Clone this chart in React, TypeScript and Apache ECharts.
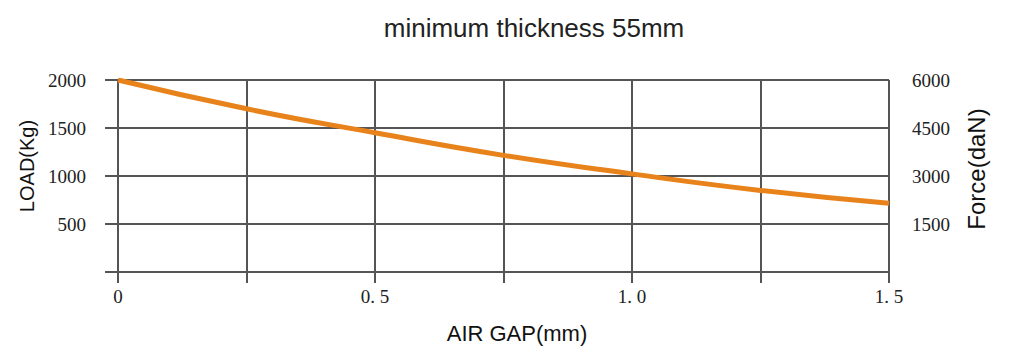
import React, { useEffect, useRef } from "react";
import * as echarts from "echarts";

const titleText = "minimum thickness 55mm";
const gapMm = [0, 0.25, 0.5, 0.75, 1.0, 1.25, 1.5];
const loadKg = [2000, 1700, 1450, 1215, 1022, 850, 715];
const xTickValues = [0, 0.5, 1.0, 1.5];
const xTickLabels = ["0", "0. 5", "1. 0", "1. 5"];
const xName = "AIR GAP(mm)";
const leftName = "LOAD(Kg)";
const rightName = "Force(daN)";

const GRID = "#555555";
const SERIF = "'Liberation Serif', 'DejaVu Serif', serif";
const SANS = "'Liberation Sans', Arial, sans-serif";

export default function App() {
  const ref = useRef<HTMLDivElement>(null);
  useEffect(() => {
    if (!ref.current) return;
    const chart = echarts.init(ref.current, null, { renderer: "svg" });
    const xFmt = (v: number) => {
      const i = xTickValues.findIndex((t) => Math.abs(t - v) < 1e-9);
      return i >= 0 ? xTickLabels[i] : "";
    };
    chart.setOption({
      animation: false,
      backgroundColor: "#ffffff",
      title: {
        text: titleText,
        left: 529,
        top: 10,
        textAlign: "center",
        textStyle: { fontFamily: SANS, fontSize: 26, fontWeight: "normal", color: "#222" },
      },
      grid: { left: 118, right: 130, top: 80, bottom: 84 },
      xAxis: [
        {
          type: "value",
          position: "bottom",
          min: 0,
          max: 1.5,
          interval: 0.25,
          name: xName,
          nameLocation: "middle",
          nameGap: 50,
          nameTextStyle: { fontFamily: SANS, fontSize: 22, color: "#111", padding: [0, 0, 0, 27] },
          axisLine: { show: false },
          axisTick: { show: true, length: 11, lineStyle: { color: GRID, width: 2 } },
          axisLabel: {
            formatter: xFmt,
            margin: 15,
            fontFamily: SERIF,
            fontSize: 19,
            color: "#222",
            hideOverlap: false,
          },
          splitLine: { show: true, lineStyle: { color: GRID, width: 2 } },
        },
        {
          type: "value",
          position: "top",
          min: 0,
          max: 1.5,
          interval: 0.25,
          axisLine: { show: false },
          axisTick: { show: true, length: 15, lineStyle: { color: GRID, width: 2 } },
          axisLabel: { show: false },
          splitLine: { show: false },
        },
      ],
      yAxis: [
        {
          type: "value",
          position: "left",
          min: 0,
          max: 2000,
          interval: 500,
          name: leftName,
          nameLocation: "middle",
          nameRotate: 90,
          nameGap: 72,
          nameTextStyle: { fontFamily: SANS, fontSize: 20, color: "#111", padding: [0, 0, 0, 20] },
          axisLine: { show: false },
          axisTick: { show: true, length: 13, lineStyle: { color: GRID, width: 2 } },
          axisLabel: {
            formatter: (v: number) => (v === 0 ? "" : String(v)),
            margin: 32,
            fontFamily: SERIF,
            fontSize: 19,
            color: "#222",
          },
          splitLine: { show: true, lineStyle: { color: GRID, width: 2 } },
        },
        {
          type: "value",
          position: "right",
          min: 0,
          max: 6000,
          interval: 1500,
          name: rightName,
          nameLocation: "middle",
          nameRotate: 90,
          nameGap: 75,
          nameTextStyle: { fontFamily: SANS, fontSize: 24, color: "#111", padding: [0, 0, 0, 14] },
          axisLine: { show: false },
          axisTick: { show: true, length: 11, lineStyle: { color: GRID, width: 2 } },
          axisLabel: {
            formatter: (v: number) => (v === 0 ? "" : String(v)),
            margin: 23,
            fontFamily: SERIF,
            fontSize: 19,
            color: "#222",
          },
          splitLine: { show: false },
        },
      ],
      series: [
        {
          type: "line",
          xAxisIndex: 0,
          yAxisIndex: 0,
          smooth: true,
          symbol: "none",
          data: gapMm.map((x, i) => [x, loadKg[i]]),
          lineStyle: { color: "#E8821A", width: 5 },
          z: 5,
        },
      ],
    });
    return () => chart.dispose();
  }, []);
  return (
    <div
      ref={ref}
      style={{ position: "fixed", left: 0, top: 0, width: 1019, height: 356, background: "#fff" }}
    />
  );
}
